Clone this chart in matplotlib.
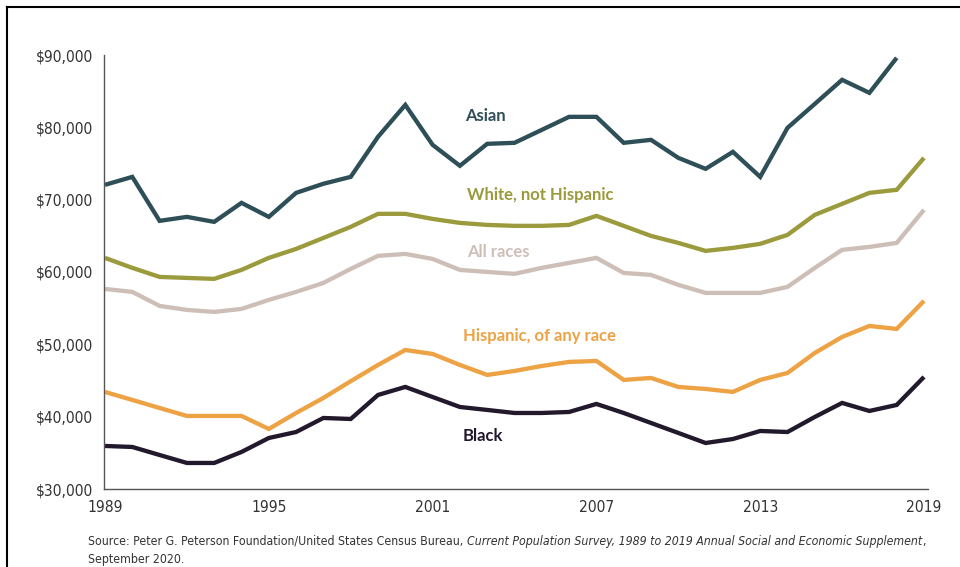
import numpy as np
import matplotlib
matplotlib.use("Agg")
import matplotlib.pyplot as plt
from matplotlib.lines import Line2D
from matplotlib.ticker import FuncFormatter
from matplotlib import font_manager as fm

years = list(range(1989, 2020))

asian = [72050, 73150, 67070, 67620, 66930, 69560, 67620, 70940, 72200, 73150,
         78690, 83100, 77580, 74680, 77720, 77860, 79650, 81450, 81450, 77860,
         78270, 75780, 74260, 76610, 73150, 79930, 83240, 86570, 84770, 89610,
         np.nan]
white_nh = [61950, 60570, 59320, 59180, 59050, 60290, 61950, 63190, 64710, 66240,
            68040, 68040, 67340, 66790, 66510, 66380, 66380, 66510, 67760, 66380,
            64990, 64020, 62920, 63330, 63890, 65130, 67900, 69420, 70940, 71360,
            75780]
all_races = [57660, 57250, 55310, 54760, 54480, 54900, 56140, 57250, 58490, 60430,
             62230, 62500, 61810, 60290, 60010, 59740, 60570, 61260, 61950, 59870,
             59600, 58220, 57110, 57110, 57110, 57940, 60570, 63060, 63470, 64020,
             68590]
hispanic = [43420, 42310, 41200, 40100, 40100, 40100, 38300, 40510, 42590, 44900,
            47150, 49220, 48670, 47150, 45770, 46320, 47010, 47570, 47700, 45080,
            45350, 44110, 43830, 43420, 45080, 46040, 48810, 51020, 52540, 52130,
            56000]
black = [35950, 35810, 34700, 33600, 33600, 35120, 37050, 37880, 39820, 39680,
         43000, 44110, 42720, 41340, 40930, 40510, 40510, 40650, 41760, 40510,
         39130, 37750, 36360, 36910, 38020, 37880, 39960, 41900, 40790, 41620,
         45490]

series_names = ["Asian", "White, not Hispanic", "All races", "Hispanic, of any race", "Black"]
series_values = [asian, white_nh, all_races, hispanic, black]
colors = ["#2e4f57", "#9b9a3d", "#cdbfb7", "#eda244", "#22192c"]
label_pos = [(2002.2, 81600), (2002.26, 70700), (2002.26, 62800), (2002.1, 51150), (2002.1, 37350)]

xticks = [1989, 1995, 2001, 2007, 2013, 2019]
yticks = [30000, 40000, 50000, 60000, 70000, 80000, 90000]

# choose a condensed font if available
narrow_prop = None
for f in fm.fontManager.ttflist:
    if f.name == "Liberation Sans Narrow" and f.style == "normal":
        narrow_prop = ("Liberation Sans Narrow", "normal")
        break
if narrow_prop is None:
    narrow_prop = ("DejaVu Sans", "condensed")
tick_family, tick_stretch = narrow_prop

fig = plt.figure(figsize=(9.6, 5.67), dpi=100)
ax = fig.add_axes([104/960, 1-489/567, (928-104)/960, (489-55)/567])

for vals, c in zip(series_values, colors):
    ax.plot(years, vals, color=c, lw=3.1, solid_joinstyle="miter", solid_capstyle="butt")

label_font = ["Lato", "DejaVu Sans"]
for name, (lx, ly), c in zip(series_names, label_pos, colors):
    ax.text(lx, ly, name, color=c, fontsize=12, fontweight="bold", family=label_font,
            ha="left", va="center")

ax.set_xlim(1989 - 1/27.3, 2019 + 4/27.3)
ax.set_ylim(30000, 90000)
ax.set_xticks(xticks)
ax.set_yticks(yticks)
ax.yaxis.set_major_formatter(FuncFormatter(lambda v, p: f"${v:,.0f}"))
for lab in ax.get_xticklabels() + ax.get_yticklabels():
    lab.set_family(tick_family)
    lab.set_stretch(tick_stretch)
    lab.set_fontsize(11.2)
    lab.set_color("#333333")
ax.tick_params(axis="both", length=0)
ax.tick_params(axis="x", pad=8)
ax.tick_params(axis="y", pad=8)
for s in ["top", "right"]:
    ax.spines[s].set_visible(False)
for s in ["left", "bottom"]:
    ax.spines[s].set_color("#555555")
    ax.spines[s].set_linewidth(1.0)

# Source text with italic part, fitted to the reference width
renderer = fig.canvas.get_renderer()
y1 = 1 - 541/567
x0 = 88/960
target_w = 925 - 88
parts = [("Source: Peter G. Peterson Foundation/United States Census Bureau, ", "normal"),
         ("Current Population Survey, 1989 to 2019 Annual Social and Economic Supplement", "italic"),
         (",", "normal")]

def draw_source(fs):
    arts = []
    x = x0
    for txt, style in parts:
        t = fig.text(x, y1, txt, fontsize=fs, style=style, family=tick_family, stretch=tick_stretch,
                     color="#333333", ha="left", va="center")
        arts.append(t)
        bb = t.get_window_extent(renderer=renderer)
        x = bb.x1 / fig.bbox.width
    return arts, x * fig.bbox.width - x0 * fig.bbox.width

fs = 9.0
arts, w = draw_source(fs)
if w > target_w:
    for a in arts:
        a.remove()
    fs = fs * target_w / w
    arts, w = draw_source(fs)
fig.text(x0, 1 - 559/567, "September 2020.", fontsize=fs, family=tick_family, stretch=tick_stretch,
         color="#333333", ha="left", va="center")

# Outer frame (top and left edges)
fig.add_artist(Line2D([7/960, 7/960], [0, 1 - 7/567], color="black", lw=1.5, transform=fig.transFigure))
fig.add_artist(Line2D([7/960, 1], [1 - 7/567, 1 - 7/567], color="black", lw=1.5, transform=fig.transFigure))

fig.savefig("out.png", dpi=100)
